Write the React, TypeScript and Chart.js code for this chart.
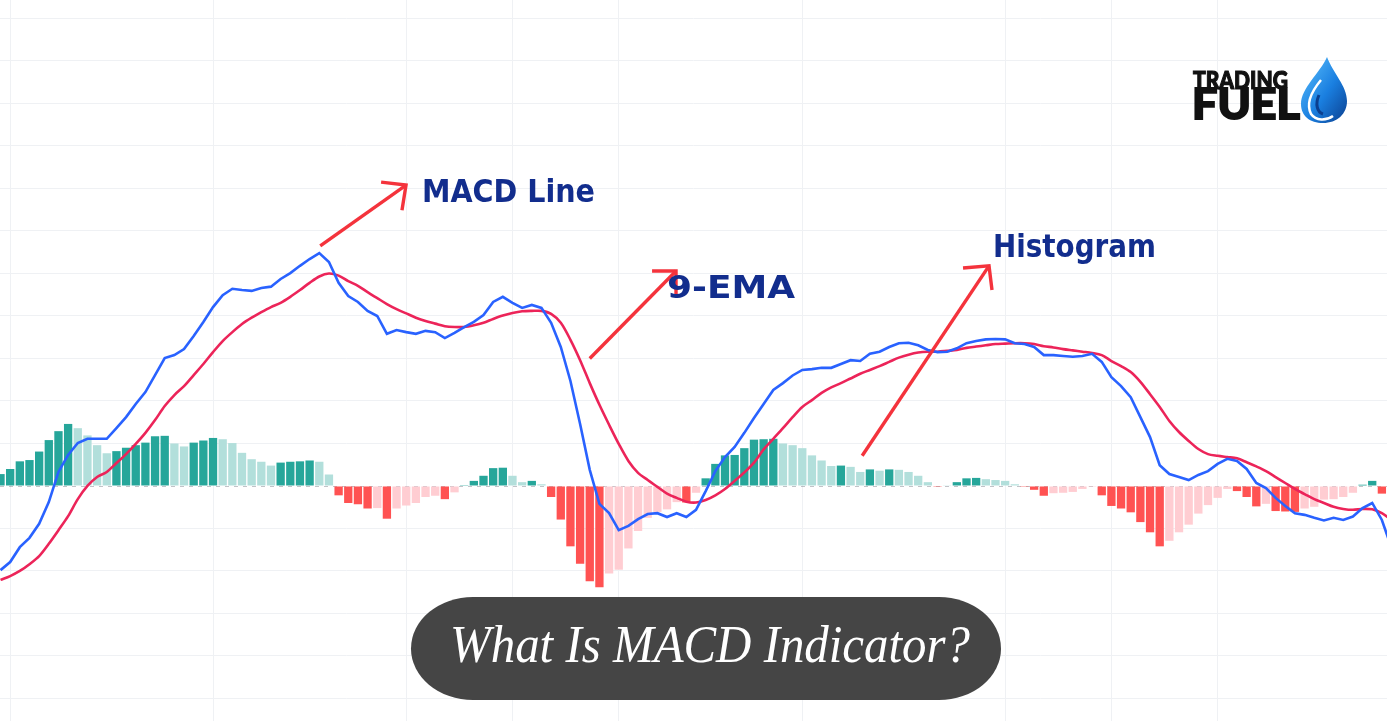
import React, { useEffect, useRef } from "react";
import { Chart, registerables } from "chart.js";

Chart.register(...registerables);

// Histogram (MACD - signal), one value per session
const histogram = [
  0.28, 0.40, 0.58, 0.61, 0.81, 1.08, 1.29, 1.46, 1.36, 1.19,
  0.96, 0.77, 0.82, 0.90, 0.96, 1.02, 1.17, 1.18, 1.00, 0.93,
  1.02, 1.07, 1.13, 1.10, 1.01, 0.78, 0.63, 0.57, 0.48, 0.55,
  0.57, 0.58, 0.60, 0.57, 0.27, -0.22, -0.40, -0.43, -0.53, -0.52,
  -0.77, -0.53, -0.46, -0.40, -0.26, -0.23, -0.31, -0.15, 0.02, 0.12,
  0.24, 0.42, 0.43, 0.24, 0.09, 0.12, 0.04, -0.26, -0.79, -1.42,
  -1.83, -2.24, -2.38, -2.06, -1.97, -1.47, -1.06, -0.75, -0.61, -0.55,
  -0.38, -0.39, -0.16, 0.18, 0.52, 0.72, 0.73, 0.89, 1.09, 1.10,
  1.11, 1.00, 0.96, 0.89, 0.72, 0.60, 0.47, 0.48, 0.45, 0.33,
  0.39, 0.36, 0.39, 0.38, 0.33, 0.24, 0.09, -0.02, 0.01, 0.09,
  0.18, 0.19, 0.16, 0.14, 0.12, 0.04, -0.02, -0.09, -0.23, -0.17,
  -0.16, -0.14, -0.07, -0.02, -0.22, -0.47, -0.53, -0.62, -0.85, -1.09,
  -1.42, -1.29, -1.09, -0.91, -0.65, -0.45, -0.28, -0.07, -0.12, -0.26,
  -0.48, -0.42, -0.59, -0.60, -0.61, -0.53, -0.49, -0.32, -0.31, -0.26,
  -0.16, 0.03, 0.12, -0.18,
];

// MACD line
const macdLine = [
  -1.98, -1.79, -1.44, -1.22, -0.89, -0.38, 0.33, 0.73, 1.01, 1.11,
  1.11, 1.11, 1.36, 1.62, 1.93, 2.21, 2.61, 3.01, 3.08, 3.22,
  3.53, 3.86, 4.21, 4.49, 4.64, 4.61, 4.59, 4.66, 4.69, 4.87,
  5.01, 5.18, 5.34, 5.48, 5.27, 4.78, 4.47, 4.33, 4.12, 4.00,
  3.58, 3.67, 3.62, 3.58, 3.65, 3.62, 3.48, 3.60, 3.74, 3.86,
  4.02, 4.33, 4.45, 4.31, 4.19, 4.26, 4.19, 3.84, 3.27, 2.47,
  1.46, 0.38, -0.42, -0.64, -1.04, -0.94, -0.78, -0.66, -0.64, -0.73,
  -0.64, -0.73, -0.56, -0.12, 0.35, 0.68, 0.92, 1.25, 1.60, 1.93,
  2.26, 2.42, 2.60, 2.73, 2.75, 2.78, 2.78, 2.87, 2.96, 2.94,
  3.11, 3.16, 3.27, 3.36, 3.37, 3.31, 3.20, 3.15, 3.16, 3.24,
  3.36, 3.41, 3.45, 3.46, 3.45, 3.36, 3.34, 3.27, 3.08, 3.08,
  3.06, 3.04, 3.06, 3.11, 2.92, 2.56, 2.35, 2.09, 1.62, 1.15,
  0.49, 0.28, 0.21, 0.14, 0.26, 0.35, 0.52, 0.64, 0.59, 0.40,
  0.07, -0.05, -0.28, -0.47, -0.64, -0.68, -0.75, -0.81, -0.75, -0.80,
  -0.72, -0.52, -0.40, -0.80, -1.46,
];

// 9-EMA signal line
const signalLine = [
  -2.21, -2.12, -2.00, -1.84, -1.65, -1.36, -1.04, -0.71, -0.31, 0.00,
  0.21, 0.33, 0.54, 0.75, 0.99, 1.25, 1.55, 1.88, 2.14, 2.35,
  2.61, 2.87, 3.15, 3.41, 3.62, 3.81, 3.96, 4.09, 4.21, 4.31,
  4.45, 4.61, 4.78, 4.93, 5.00, 4.95, 4.82, 4.71, 4.56, 4.42,
  4.28, 4.16, 4.06, 3.96, 3.88, 3.82, 3.76, 3.74, 3.74, 3.78,
  3.84, 3.93, 4.01, 4.07, 4.11, 4.12, 4.12, 4.05, 3.84, 3.44,
  2.96, 2.42, 1.91, 1.44, 0.99, 0.59, 0.31, 0.14, -0.02, -0.18,
  -0.28, -0.37, -0.39, -0.33, -0.22, -0.07, 0.12, 0.32, 0.55, 0.86,
  1.11, 1.36, 1.62, 1.86, 2.02, 2.19, 2.32, 2.42, 2.53, 2.64,
  2.73, 2.82, 2.92, 3.02, 3.09, 3.14, 3.16, 3.16, 3.18, 3.20,
  3.25, 3.28, 3.31, 3.34, 3.35, 3.36, 3.36, 3.34, 3.29, 3.26,
  3.22, 3.19, 3.16, 3.13, 3.08, 2.94, 2.82, 2.68, 2.45, 2.16,
  1.86, 1.53, 1.27, 1.06, 0.87, 0.75, 0.71, 0.68, 0.65, 0.56,
  0.46, 0.35, 0.21, 0.07, -0.07, -0.19, -0.31, -0.40, -0.49, -0.54,
  -0.56, -0.54, -0.55, -0.64, -0.80,
];

// sessions carrying a time-axis grid line
const timeGridSessions = [1, 22, 42, 53, 64, 83, 104, 115, 126];
// value-axis grid levels
const valueGridLevels = [-5, -4, -3, -2, -1, 0, 1, 2, 3, 4, 5, 6, 7, 8, 9, 10, 11];

// callout arrows, in data coordinates [session, value]
const callouts = [
  { from: [33.1, 5.65], tip: [41.98, 7.08], heads: [[39.4, 7.15], [41.56, 6.49]] },
  { from: [61.0, 3.0], tip: [69.93, 5.06], heads: [[67.45, 5.06], [69.93, 4.45]] },
  { from: [89.2, 0.71], tip: [102.33, 5.18], heads: [[99.64, 5.13], [102.64, 4.61]] },
];

const C = {
  growAbove: "#26a69a",
  fallAbove: "#b2dfdb",
  growBelow: "#ffcdd2",
  fallBelow: "#ff5252",
  macd: "#2962ff",
  signal: "#ec2459",
  grid: "#eff1f4",
  arrow: "#f4333c",
  label: "#122d8d",
};

function histColor(i: number) {
  const v = histogram[i];
  const prev = i > 0 ? histogram[i - 1] : null;
  if (v >= 0) return prev === null || prev < v ? C.growAbove : C.fallAbove;
  return prev !== null && prev < v ? C.growBelow : C.fallBelow;
}

const zeroLinePlugin = {
  id: "zeroLine",
  beforeDatasetsDraw(chart: any) {
    const { ctx, chartArea, scales } = chart;
    const y = Math.round(scales.y.getPixelForValue(0)) + 0.5;
    ctx.save();
    ctx.strokeStyle = "rgba(120,123,134,0.45)";
    ctx.lineWidth = 1;
    ctx.setLineDash([4, 5]);
    ctx.beginPath();
    ctx.moveTo(chartArea.left, y);
    ctx.lineTo(chartArea.right, y);
    ctx.stroke();
    ctx.restore();
  },
};

const calloutPlugin = {
  id: "callouts",
  afterDatasetsDraw(chart: any) {
    const { ctx, scales } = chart;
    const px = (p: number[]) => [scales.x.getPixelForValue(p[0]), scales.y.getPixelForValue(p[1])];
    ctx.save();
    ctx.strokeStyle = C.arrow;
    ctx.lineWidth = 3.4;
    ctx.lineCap = "butt";
    ctx.lineJoin = "miter";
    for (const c of callouts) {
      const a = px(c.from);
      const t = px(c.tip);
      ctx.beginPath();
      ctx.moveTo(a[0], a[1]);
      ctx.lineTo(t[0], t[1]);
      ctx.stroke();
      const h1 = px(c.heads[0]);
      const h2 = px(c.heads[1]);
      ctx.beginPath();
      ctx.moveTo(h1[0], h1[1]);
      ctx.lineTo(t[0], t[1]);
      ctx.lineTo(h2[0], h2[1]);
      ctx.stroke();
    }
    ctx.restore();
  },
};

export default function App() {
  const ref = useRef<HTMLCanvasElement | null>(null);

  useEffect(() => {
    if (!ref.current) return;
    const chart = new Chart(ref.current, {
      type: "bar",
      data: {
        datasets: [
          {
            type: "line",
            label: "MACD",
            data: macdLine.map((y, x) => ({ x, y })),
            borderColor: C.macd,
            borderWidth: 2.6,
            pointRadius: 0,
            tension: 0,
            order: 1,
          } as any,
          {
            type: "line",
            label: "Signal",
            data: signalLine.map((y, x) => ({ x, y })),
            borderColor: C.signal,
            borderWidth: 2.6,
            pointRadius: 0,
            tension: 0.3,
            order: 2,
          } as any,
          {
            type: "bar",
            label: "Histogram",
            data: histogram.map((y, x) => ({ x, y })),
            backgroundColor: histogram.map((_, i) => histColor(i)),
            borderWidth: 0,
            barPercentage: 0.86,
            categoryPercentage: 1,
            order: 3,
          } as any,
        ],
      },
      options: {
        animation: false,
        responsive: false,
        devicePixelRatio: 1,
        layout: { padding: 0 },
        plugins: { legend: { display: false }, tooltip: { enabled: false }, title: { display: false } },
        scales: {
          x: {
            type: "linear",
            offset: false,
            min: -0.052,
            max: 143.53,
            afterBuildTicks: (s: any) => {
              s.ticks = timeGridSessions.map((value) => ({ value }));
            },
            ticks: { display: false },
            grid: { color: C.grid, lineWidth: 1, drawTicks: false, offset: false },
            border: { display: false },
          },
          y: {
            type: "linear",
            min: -5.53,
            max: 11.435,
            afterBuildTicks: (s: any) => {
              s.ticks = valueGridLevels.map((value) => ({ value }));
            },
            ticks: { display: false },
            grid: {
              color: (ctx: any) => (ctx.tick && ctx.tick.value === 0 ? "rgba(0,0,0,0)" : C.grid),
              lineWidth: 1,
              drawTicks: false,
            },
            border: { display: false },
          },
        },
      } as any,
      plugins: [zeroLinePlugin, calloutPlugin],
    });
    return () => chart.destroy();
  }, []);

  return (
    <div style={{ position: "fixed", left: 0, top: 0, width: 1387, height: 721, background: "#ffffff", overflow: "hidden" }}>
      <canvas ref={ref} width={1387} height={721} style={{ position: "absolute", left: 0, top: 0, width: 1387, height: 721 }} />
      <svg width={1387} height={721} style={{ position: "absolute", left: 0, top: 0, pointerEvents: "none" }}>
        <defs>
          <linearGradient id="drop" x1="0" y1="0" x2="1" y2="1">
            <stop offset="0" stopColor="#5fc3ff" />
            <stop offset="0.55" stopColor="#1a7fe0" />
            <stop offset="1" stopColor="#0b3f8f" />
          </linearGradient>
        </defs>
        <text x={422} y={202} fontFamily="DejaVu Sans" fontWeight="bold" fontSize={32} fill={C.label} textLength={173} lengthAdjust="spacingAndGlyphs">MACD Line</text>
        <text x={667} y={298} fontFamily="DejaVu Sans" fontWeight="bold" fontSize={32} fill={C.label} textLength={128} lengthAdjust="spacingAndGlyphs">9-EMA</text>
        <text x={993} y={257} fontFamily="DejaVu Sans" fontWeight="bold" fontSize={32} fill={C.label} textLength={163} lengthAdjust="spacingAndGlyphs">Histogram</text>

        <text x={1193} y={89} fontFamily="Lato" fontWeight={900} fontSize={25} fill="#111111" stroke="#111111" strokeWidth={1.2} textLength={95} lengthAdjust="spacingAndGlyphs">TRADING</text>
        <text x={1192} y={119} fontFamily="Lato" fontWeight={900} fontSize={42} fill="#111111" stroke="#111111" strokeWidth={1.8} textLength={108} lengthAdjust="spacingAndGlyphs">FUEL</text>
        <path d="M1327,57 C1320,73 1301,88 1301,104 C1301,116 1310,123 1323,123 C1337,123 1347,114 1347,101 C1347,86 1333,73 1327,57 Z" fill="url(#drop)" />
        <path d="M1321,80 C1311,92 1306,104 1311,114 C1316,121 1326,121 1333,116" fill="none" stroke="#ffffff" strokeWidth={2.5} />
        <path d="M1319,95 C1315,104 1317,112 1323,114" fill="none" stroke="#0b3f8f" strokeWidth={3} />

        <rect x={411} y={597} width={590} height={103} rx={62} ry={51.5} fill="#454545" />
        <text x={450} y={662} fontFamily="Liberation Serif" fontStyle="italic" fontSize={52} fill="#ffffff" textLength={520} lengthAdjust="spacingAndGlyphs">What Is MACD Indicator?</text>
      </svg>
    </div>
  );
}
